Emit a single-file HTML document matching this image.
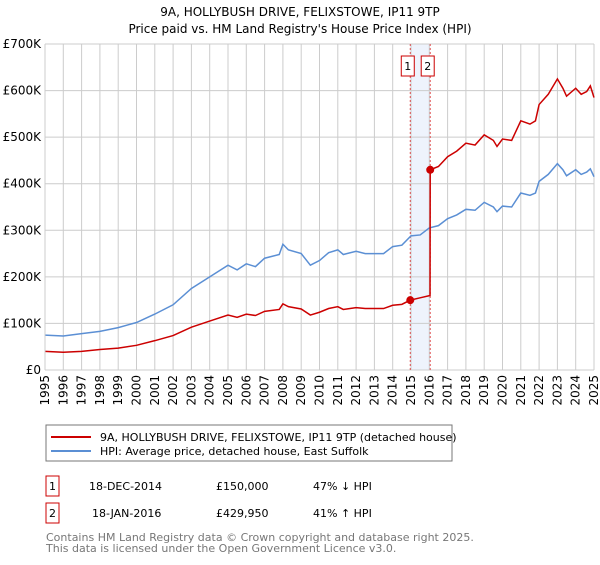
<!DOCTYPE html>
<html><head><meta charset="utf-8"><style>
body{margin:0;background:#fff;font-family:"Liberation Sans","DejaVu Sans",sans-serif;}
svg text{font-family:"DejaVu Sans","Liberation Sans",sans-serif;}
</style></head><body>
<svg id="c" width="600" height="560" viewBox="0 0 600 560" xmlns="http://www.w3.org/2000/svg">
<text x="300" y="16" text-anchor="middle" font-size="12">9A, HOLLYBUSH DRIVE, FELIXSTOWE, IP11 9TP</text>
<text x="300" y="33" text-anchor="middle" font-size="12">Price paid vs. HM Land Registry's House Price Index (HPI)</text>
<g id="grid"></g><g id="series"></g><g id="axes"></g>
<g>
<rect x="46" y="425" width="406" height="36" fill="#fff" stroke="#777"/>
<line x1="51" y1="437" x2="91" y2="437" stroke="#cc0000" stroke-width="2"/>
<text x="100" y="441" font-size="11">9A, HOLLYBUSH DRIVE, FELIXSTOWE, IP11 9TP (detached house)</text>
<line x1="51" y1="451" x2="91" y2="451" stroke="#5b8fd4" stroke-width="2"/>
<text x="100" y="455" font-size="11">HPI: Average price, detached house, East Suffolk</text>
</g>
<g>
<rect x="46" y="476" width="13" height="20" fill="#fff" stroke="#cc0000"/>
<text x="52.5" y="490" text-anchor="middle" font-size="11">1</text>
<text x="89" y="490" font-size="11">18-DEC-2014</text>
<text x="216" y="490" font-size="11">£150,000</text>
<text x="313" y="490" font-size="11">47% ↓ HPI</text>
</g>
<g>
<rect x="46" y="503" width="13" height="20" fill="#fff" stroke="#cc0000"/>
<text x="52.5" y="517" text-anchor="middle" font-size="11">2</text>
<text x="92" y="517" font-size="11">18-JAN-2016</text>
<text x="216" y="517" font-size="11">£429,950</text>
<text x="313" y="517" font-size="11">41% ↑ HPI</text>
</g>
<text x="46" y="541" font-size="11" fill="#777">Contains HM Land Registry data © Crown copyright and database right 2025.</text>
<text x="46" y="552" font-size="11" fill="#777">This data is licensed under the Open Government Licence v3.0.</text>
</svg>
<script>
const hpiYears=[1995,1996,1997,1998,1999,2000,2001,2002,2003,2004,2005,2005.5,2006,2006.5,2007,2007.8,2008,2008.3,2009,2009.5,2010,2010.5,2011,2011.3,2012,2012.5,2013,2013.5,2014,2014.5,2015,2015.5,2016,2016.5,2017,2017.5,2018,2018.5,2019,2019.5,2019.7,2020,2020.5,2021,2021.5,2021.8,2022,2022.5,2023,2023.3,2023.5,2024,2024.3,2024.6,2024.8,2025];
const hpiValues=[75,73,78,83,91,102,120,140,175,200,225,215,228,222,240,248,270,258,250,225,235,252,258,248,255,250,250,250,265,268,288,290,305,310,325,333,345,343,360,350,340,352,350,380,375,380,405,420,443,430,417,430,420,425,432,415];
const propYears=[1995,1996,1997,1998,1999,2000,2001,2002,2003,2004,2005,2005.5,2006,2006.5,2007,2007.8,2008,2008.3,2009,2009.5,2010,2010.5,2011,2011.3,2012,2012.5,2013,2013.5,2014,2014.5,2014.96,2015.5,2016.04,2016.05,2016.5,2017,2017.5,2018,2018.5,2019,2019.5,2019.7,2020,2020.5,2021,2021.5,2021.8,2022,2022.5,2023,2023.3,2023.5,2024,2024.3,2024.6,2024.8,2025];
const propValues=[40,38,40,44,47,53,63,74,92,105,118,113,120,117,126,130,142,136,131,118,124,132,136,130,134,132,132,132,139,141,150,155,160,430,437,458,470,487,483,505,493,480,496,493,535,528,535,570,592,625,605,588,605,592,598,610,585];
const saleYears=[2014.96,2016.05];
const saleValues=[150,429.95];
const saleLabels=["1","2"];
const yTicks=[0,100,200,300,400,500,600,700];
const yTickLabels=["£0","£100K","£200K","£300K","£400K","£500K","£600K","£700K"];
const xTicks=[1995,1996,1997,1998,1999,2000,2001,2002,2003,2004,2005,2006,2007,2008,2009,2010,2011,2012,2013,2014,2015,2016,2017,2018,2019,2020,2021,2022,2023,2024,2025];

const NS="http://www.w3.org/2000/svg";
const X0=45,X1=594,Y0=370,Y1=44;
const xs=y=>X0+(y-1995)/30*(X1-X0);
const ys=v=>Y0-v/700*(Y0-Y1);
function mk(tag,attrs,parent){const e=document.createElementNS(NS,tag);for(const k in attrs)e.setAttribute(k,attrs[k]);parent.appendChild(e);return e;}
const grid=document.getElementById('grid'),series=document.getElementById('series'),axes=document.getElementById('axes');

const band=mk('rect',{x:xs(saleYears[0]),y:Y1,width:xs(saleYears[1])-xs(saleYears[0]),height:Y0-Y1,fill:'#eef3fc'},grid);


yTicks.forEach((t,i)=>{
  const l=mk('line',{x1:X0,x2:X1,y1:ys(t),y2:ys(t),stroke:'#ccc'},grid);
  
  
  const tx=mk('text',{x:X0-4,y:ys(t)+4,'text-anchor':'end','font-size':'12'},axes);
  tx.textContent=yTickLabels[i];
  
  
});
xTicks.forEach(t=>{
  const l=mk('line',{x1:xs(t),x2:xs(t),y1:Y1,y2:Y0,stroke:'#ccc'},grid);
  
  
  const g=mk('g',{transform:'translate('+(xs(t)+4)+','+(Y0+5)+') rotate(-90)'},axes);
  const tx=mk('text',{x:0,y:0,'text-anchor':'end','font-size':'12'},g);
  tx.textContent=t;
  
  
});
saleYears.forEach((s,i)=>{
  const l=mk('line',{x1:xs(s),x2:xs(s),y1:Y1,y2:Y0,stroke:'#e05050','stroke-dasharray':'2,2','stroke-width':'1'},grid);
  
  
});
const hpi=mk('polyline',{points:hpiYears.map((y,i)=>xs(y)+','+ys(hpiValues[i])).join(' '),fill:'none',stroke:'#5b8fd4','stroke-width':'1.5'},series);


const prop=mk('polyline',{points:propYears.map((y,i)=>xs(y)+','+ys(propValues[i])).join(' '),fill:'none',stroke:'#cc0000','stroke-width':'1.5'},series);


saleYears.forEach((s,i)=>{
  const c=mk('circle',{cx:xs(s),cy:ys(saleValues[i]),r:4,fill:'#cc0000'},series);
  
  
  const off=-2.5;
  const r=mk('rect',{x:xs(s)+off-6.5,y:56,width:13,height:20,fill:'#fff',stroke:'#cc0000'},series);
  
  
  const t=mk('text',{x:xs(s)+off,y:70,'text-anchor':'middle','font-size':'11'},series);
  t.textContent=saleLabels[i];
  
  
});
const frame=mk('line',{x1:X0,x2:X0,y1:Y1,y2:Y0,stroke:'#ccc'},axes);


</script>
</body></html>
